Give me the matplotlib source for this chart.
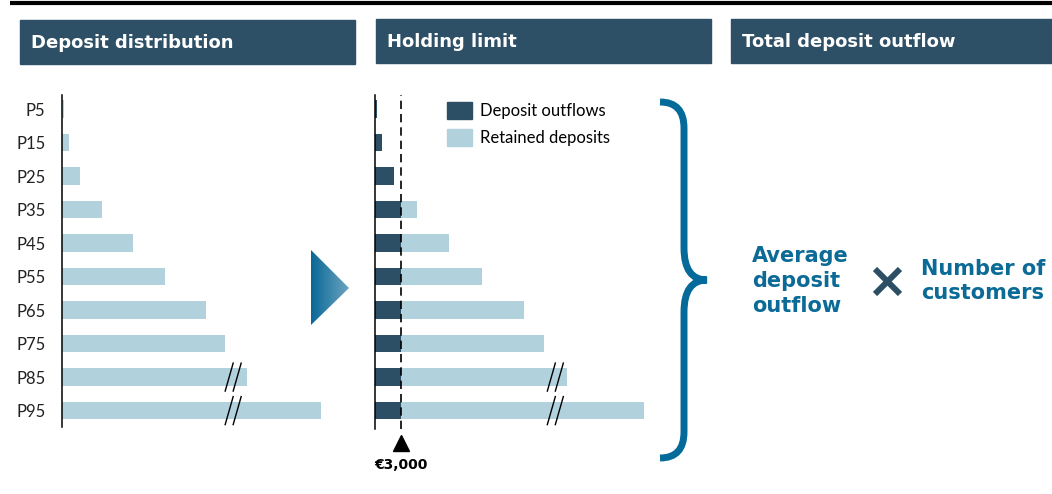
import numpy as np
import matplotlib.pyplot as plt
from matplotlib.patches import Rectangle, Polygon, Patch, PathPatch
from matplotlib.path import Path

# percentiles of the deposit distribution, values in thousand EUR
percentiles = ['P5', 'P15', 'P25', 'P35', 'P45', 'P55', 'P65', 'P75', 'P85', 'P95']
deposits = [0.2, 0.8, 2.2, 4.8, 8.5, 12.3, 17.2, 19.5, 22.2, 31.0]
broken = ['P85', 'P95']
holding_limit = 3.0
limit_label = '€3,000'
headers = ['Deposit distribution', 'Holding limit', 'Total deposit outflow']
legend_labels = ['Deposit outflows', 'Retained deposits']

outflows = [min(v, holding_limit) for v in deposits]
retained = [max(v - holding_limit, 0) for v in deposits]

DARK = '#2d4f65'
LIGHT = '#b1d1dd'
HEAD = '#2d5066'
BLUE = '#0b6a96'
BRACE = '#036a9a'

W, H = 1052, 494
fig = plt.figure(figsize=(W / 100, H / 100), dpi=100)

# overlay in pixel coordinates for the decorations
ov = fig.add_axes([0, 0, 1, 1], zorder=0)
ov.set_axis_off()

def px_axes(x0, y0, x1, y1):
    return fig.add_axes([x0 / W, 1 - y1 / H, (x1 - x0) / W, (y1 - y0) / H], zorder=2)

y = np.arange(len(percentiles))
ylim = (9.49, -0.42)

# left chart
axl = px_axes(62, 95, 62 + 32 * 8.35, 427)
axl.barh(y, deposits, height=0.53, color=LIGHT)
axl.set_xlim(0, 32)
axl.set_ylim(*ylim)
axl.set_yticks(y)
axl.set_yticklabels(percentiles, family='Lato', fontsize=12, color='#222222')
axl.tick_params(axis='y', length=0, pad=12)
axl.set_xticks([])

# middle chart
axm = px_axes(375, 95, 375 + 32 * 8.67, 429)
axm.barh(y, outflows, height=0.53, color=DARK)
axm.barh(y, retained, left=outflows, height=0.53, color=LIGHT)
axm.axvline(holding_limit, color='black', lw=1.2, ls=(0, (5, 3)))
axm.set_xlim(0, 32)
axm.set_ylim(9.49 + 2 / 33.5, -0.42)
axm.set_xticks([])
axm.set_yticks([])
axm.plot([holding_limit], [9.97], marker='^', ms=12, color='black', clip_on=False)
axm.text(holding_limit, 10.62, limit_label, ha='center', va='center',
         fontsize=10, fontweight='bold', family='DejaVu Sans', clip_on=False)

for ax, sx in ((axl, 8.35), (axm, 8.67)):
    ax.patch.set_alpha(0)
    for s in ('top', 'right', 'bottom'):
        ax.spines[s].set_visible(False)
    ax.spines['left'].set_linewidth(1.1)
    # break marks on the long bars
    xb = 20.5 if ax is axl else 20.8
    for name in broken:
        i = percentiles.index(name)
        for off in (-4, 4):
            xs = [xb + (off - 4) / sx, xb + (off + 4) / sx]
            ys = [i + 14 / 33.5, i - 14 / 33.5]
            ax.plot(xs, ys, color='black', lw=1.0, clip_on=False)

axm.legend([Patch(color=DARK), Patch(color=LIGHT)], legend_labels,
           loc='upper left', bbox_to_anchor=(447 / W, 1 - 102 / H),
           bbox_transform=fig.transFigure, frameon=False, borderpad=0,
           borderaxespad=0, handlelength=1.5, handleheight=1.15,
           handletextpad=0.5, labelspacing=0.62,
           prop={'family': 'Lato', 'size': 12})

# headers and top rule
ov.plot([10, W], [3.5, 3.5], color='black', lw=3, solid_capstyle='butt')
boxes = [(20, 20, 355, 64), (376, 19, 711, 63), (731, 19, W, 63)]
for (x0, y0, x1, y1), txt in zip(boxes, headers):
    ov.add_patch(Rectangle((x0, y0), x1 - x0, y1 - y0, color=HEAD))
    ov.text(x0 + 11, (y0 + y1) / 2 + 1, txt, color='white', fontsize=13,
            fontweight='bold', family='DejaVu Sans', va='center', ha='left')

# gradient arrow between panels
grad = np.linspace(0, 1, 64)[None, :]
cmap = plt.matplotlib.colors.LinearSegmentedColormap.from_list('g', ['#0a6896', '#6ca4c1'])
im = ov.imshow(grad, cmap=cmap, extent=[311, 349, 325, 250], aspect='auto')
tri = Polygon([(311, 250), (311, 325), (349, 288)], closed=True, facecolor='none', edgecolor='none')
ov.add_patch(tri)
im.set_clip_path(tri)

# curly brace
verts = [(660, 102), (684, 102), (684, 128), (684, 248), (684, 280), (707, 280),
         (684, 280), (684, 312), (684, 432), (684, 458), (660, 458)]
codes = [Path.MOVETO, Path.CURVE3, Path.CURVE3, Path.LINETO, Path.CURVE3, Path.CURVE3,
         Path.CURVE3, Path.CURVE3, Path.LINETO, Path.CURVE3, Path.CURVE3]
ov.add_patch(PathPatch(Path(verts, codes), facecolor='none', edgecolor=BRACE,
                       lw=5, capstyle='butt', joinstyle='bevel'))

# formula
ov.text(752, 281, 'Average\ndeposit\noutflow', color=BLUE, fontsize=15,
        fontweight='bold', family='DejaVu Sans', ha='left', va='center', linespacing=1.3)
ov.plot([875, 900], [269, 294], color=DARK, lw=4.3, solid_capstyle='butt')
ov.plot([875, 900], [294, 269], color=DARK, lw=4.3, solid_capstyle='butt')
ov.text(921, 281, 'Number of\ncustomers', color=BLUE, fontsize=15,
        fontweight='bold', family='DejaVu Sans', ha='left', va='center', linespacing=1.3)

ov.set_xlim(0, W)
ov.set_ylim(H, 0)

fig.savefig('out.png', dpi=100)
